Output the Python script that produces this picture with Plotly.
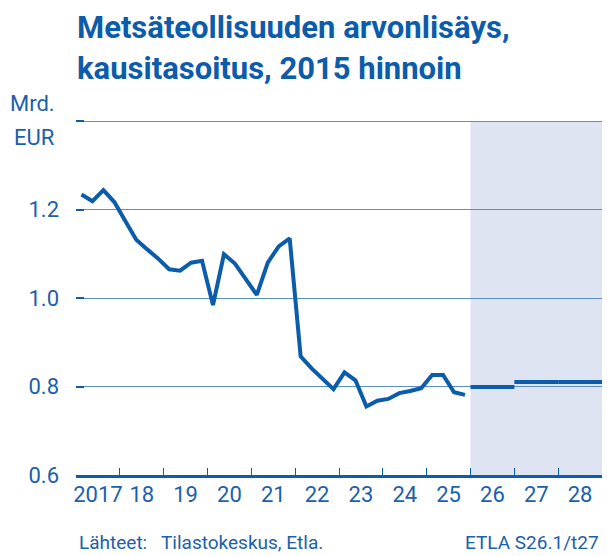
import plotly.graph_objects as go

# Quarterly value added, 2017Q1 .. 2025Q4 (bn EUR, 2015 prices, seasonally adjusted)
years = list(range(2017, 2026))
quarterly_values = [
    1.234, 1.219, 1.244, 1.217,   # 2017
    1.174, 1.132, 1.110, 1.089,   # 2018
    1.065, 1.062, 1.080, 1.084,   # 2019
    0.984, 1.099, 1.078, 1.044,   # 2020
    1.007, 1.080, 1.117, 1.135,   # 2021
    0.868, 0.841, 0.817, 0.794,   # 2022
    0.832, 0.814, 0.755, 0.768,   # 2023
    0.772, 0.785, 0.790, 0.796,   # 2024
    0.826, 0.826, 0.787, 0.781,   # 2025
]
forecast_years = [2026, 2027, 2028]
forecast_values = [0.799, 0.810, 0.810]

tick_years = list(range(2017, 2029))
tick_labels = ["2017", "18", "19", "20", "21", "22", "23", "24", "25", "26", "27", "28"]
y_ticks = [0.6, 0.8, 1.0, 1.2, 1.4]
y_labels = ["0.6", "0.8", "1.0", "1.2", ""]

BLUE = "#0b5cab"
TEXT = "#1b60ab"
GRID = "#5b8fca"
SHADE = "#dfe4f2"
FONT = "Roboto"

qx = []
for y in years:
    for q in range(4):
        qx.append(y + (q + 0.5) / 4)

fx, fy = [], []
for yr, v in zip(forecast_years, forecast_values):
    fx += [yr, yr + 1, None]
    fy += [v, v, None]

X_RANGE = [2017, 2029]

fig = go.Figure()
fig.add_shape(type="rect", xref="x", yref="y", x0=2026, x1=2029, y0=0.6, y1=1.4,
              fillcolor=SHADE, line_width=0, layer="below")
fig.add_trace(go.Scatter(x=qx, y=quarterly_values, mode="lines",
                         line=dict(color=BLUE, width=4), hoverinfo="skip"))
fig.add_trace(go.Scatter(x=fx, y=fy, mode="lines", xaxis="x2",
                         line=dict(color=BLUE, width=4), hoverinfo="skip", connectgaps=False))

fig.update_layout(
    width=607, height=556,
    margin=dict(l=76, r=5, t=120, b=81),
    paper_bgcolor="white", plot_bgcolor="rgba(0,0,0,0)",
    showlegend=False,
    font=dict(family=FONT, color=TEXT, size=22),
    xaxis=dict(
        range=X_RANGE,
        tickmode="array",
        tickvals=tick_years[1:],
        ticktext=[""] * len(tick_years[1:]),
        ticks="inside", ticklen=7, tickcolor=BLUE, tickwidth=1.3,
        showgrid=False, zeroline=False,
        showline=True, linecolor=BLUE, linewidth=2.5,
    ),
    xaxis2=dict(
        range=X_RANGE, overlaying="x", anchor="y", side="bottom",
        tickmode="array",
        tickvals=[y + 0.5 for y in tick_years],
        ticktext=tick_labels,
        ticks="", showgrid=False, zeroline=False, showline=False,
        tickfont=dict(size=22, color=TEXT, family=FONT),
        ticklabelstandoff=4,
    ),
    yaxis=dict(
        range=[0.6, 1.4025],
        tickmode="array", tickvals=y_ticks, ticktext=y_labels,
        showgrid=True, gridcolor=GRID, gridwidth=1.2,
        zeroline=False, showline=False,
        ticks="inside", ticklen=8, tickcolor=BLUE, tickwidth=2,
        tickfont=dict(size=22, color=TEXT, family=FONT),
        ticklabelstandoff=16,
    ),
)

H = 355.0

def py(p):
    return (475 - p) / H

def px(p):
    return (p - 76) / 526

ann = [
    dict(text="<b>Metsäteollisuuden arvonlisäys,</b>", x=px(75), y=py(28), xanchor="left",
         yanchor="middle", font=dict(size=31, color=BLUE, family=FONT)),
    dict(text="<b>kausitasoitus, 2015 hinnoin</b>", x=px(75), y=py(69), xanchor="left",
         yanchor="middle", font=dict(size=31, color=BLUE, family=FONT)),
    dict(text="Mrd.", x=px(32), y=py(103), xanchor="center", yanchor="middle",
         font=dict(size=22, color=TEXT, family=FONT)),
    dict(text="EUR", x=px(34), y=py(137), xanchor="center", yanchor="middle",
         font=dict(size=22, color=TEXT, family=FONT)),
    dict(text="Lähteet:   Tilastokeskus, Etla.", x=px(77), y=py(542), xanchor="left",
         yanchor="middle", font=dict(size=19, color=TEXT, family=FONT)),
    dict(text="ETLA S26.1/t27", x=px(601), y=py(542), xanchor="right",
         yanchor="middle", font=dict(size=19, color=TEXT, family=FONT)),
]
for a in ann:
    fig.add_annotation(xref="paper", yref="paper", showarrow=False, **a)

fig.write_html("out.html", config={"displayModeBar": False},
               post_script="document.body.style.margin='0';")
